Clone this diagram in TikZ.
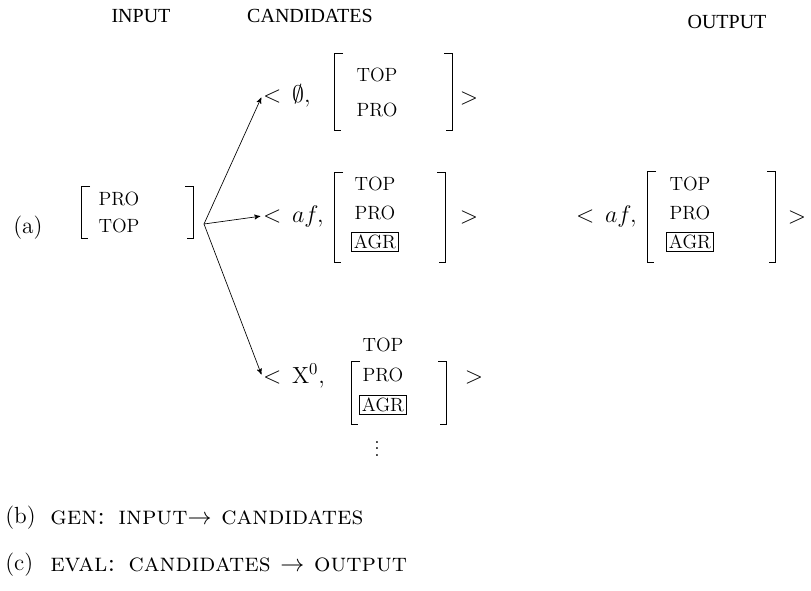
\documentclass[tikz,border=0pt]{standalone}
\usepackage{amssymb}
\usepackage{fontspec}
\newfontfamily\headfont{Liberation Serif}
\usetikzlibrary{arrows,positioning}
\tikzset{>=stealth',shorten >=1pt,auto}
\tikzset{
  header/.style={font=\headfont\fontsize{12}{14}\selectfont},
  feat/.style={align=center,inner sep=0pt,font=\fontsize{11.5}{13.5}\selectfont},
  fsbox/.style={inner sep=0pt},
  bracket/.style={line width=0.9pt},
  tuple/.style={inner sep=0.5pt,font=\fontsize{14}{16}\selectfont},
  itemlabel/.style={anchor=west,inner sep=0pt,font=\fontsize{14}{16}\selectfont},
  itemtext/.style={anchor=west,inner sep=0pt,font=\fontsize{15.5}{18}\selectfont}
}
\setlength{\fboxsep}{1.2pt}
\begin{document}
\begin{tikzpicture}[x=0.6pt,y=-0.6pt]
    \useasboundingbox (0,0) rectangle (811,591);
    % column heads
    \node[header] (hin) at (141,16) {INPUT};
    \node[header] (hcand) at (310,16) {CANDIDATES};
    \node[header] (hout) at (727,22) {OUTPUT};
    \node[itemlabel] (la) at (13,228) {(a)};
    % input
    \node[fsbox,minimum width=66.6pt,minimum height=30.6pt] (bi) at (137.5,212.5) {};
    \node[feat] (ti) at (119,212.5) {PRO\\[2.7pt]TOP};
    \coordinate (src) at (204,224);
    % candidates
    \node[fsbox,minimum width=70.2pt,minimum height=46pt] (b1) at (393.5,92) {};
    \node[feat] (t1) at (377,92) {TOP\\[7.5pt]PRO};
    \node[tuple,anchor=west] (p1) at (262,96) {$<\,\emptyset,$};
    \node[tuple] (g1) at (469,98) {$>$};
    \node[fsbox,minimum width=66pt,minimum height=53.4pt] (b2) at (390,217.5) {};
    \node[feat] (t2) at (375,214.5) {TOP\\[3.9pt]PRO\\[3.9pt]\fbox{AGR}};
    \node[tuple,anchor=west] (p2) at (262,216) {$<\,af,$};
    \node[tuple] (g2) at (469,217) {$>$};
    \node[fsbox,minimum width=56.4pt,minimum height=37.2pt] (b3) at (399,393) {};
    \node[feat] (t3) at (383,376) {TOP\\[4.5pt]PRO\\[4.5pt]\fbox{AGR}};
    \node[tuple,anchor=west] (p3) at (262,376) {$<\,\mathrm{X}^0,$};
    \node[tuple] (g3) at (474,377) {$>$};
    \node[font=\large] (dots) at (377,444) {$\vdots$};
    % output
    \node[fsbox,minimum width=76.2pt,minimum height=54pt] (bo) at (711.5,217) {};
    \node[feat] (to) at (690,214.5) {TOP\\[3.9pt]PRO\\[3.9pt]\fbox{AGR}};
    \node[tuple,anchor=west] (po) at (575,216) {$<\,af,$};
    \node[tuple] (go) at (797,217) {$>$};
    \foreach \b in {bi,b1,b2,b3,bo}{
        \draw[bracket] ([xshift=5pt]\b.north west) -| (\b.south west) -- ([xshift=5pt]\b.south west);
        \draw[bracket] ([xshift=-5pt]\b.north east) -| (\b.south east) -- ([xshift=-5pt]\b.south east);
    }
    \path[->]
        (src) edge (p1.west)
        (src) edge (p2.west)
        (src) edge (p3.west)
    ;
    % GEN and EVAL
    \node[itemlabel] (lb) at (5,518) {(b)};
    \node[itemtext] (gen) at (50,518) {\textsc{gen: input$\rightarrow$ candidates}};
    \node[itemlabel] (lc) at (5,565) {(c)};
    \node[itemtext] (eval) at (50,565) {\textsc{eval: candidates $\rightarrow$ output}};
\end{tikzpicture}
\end{document}
